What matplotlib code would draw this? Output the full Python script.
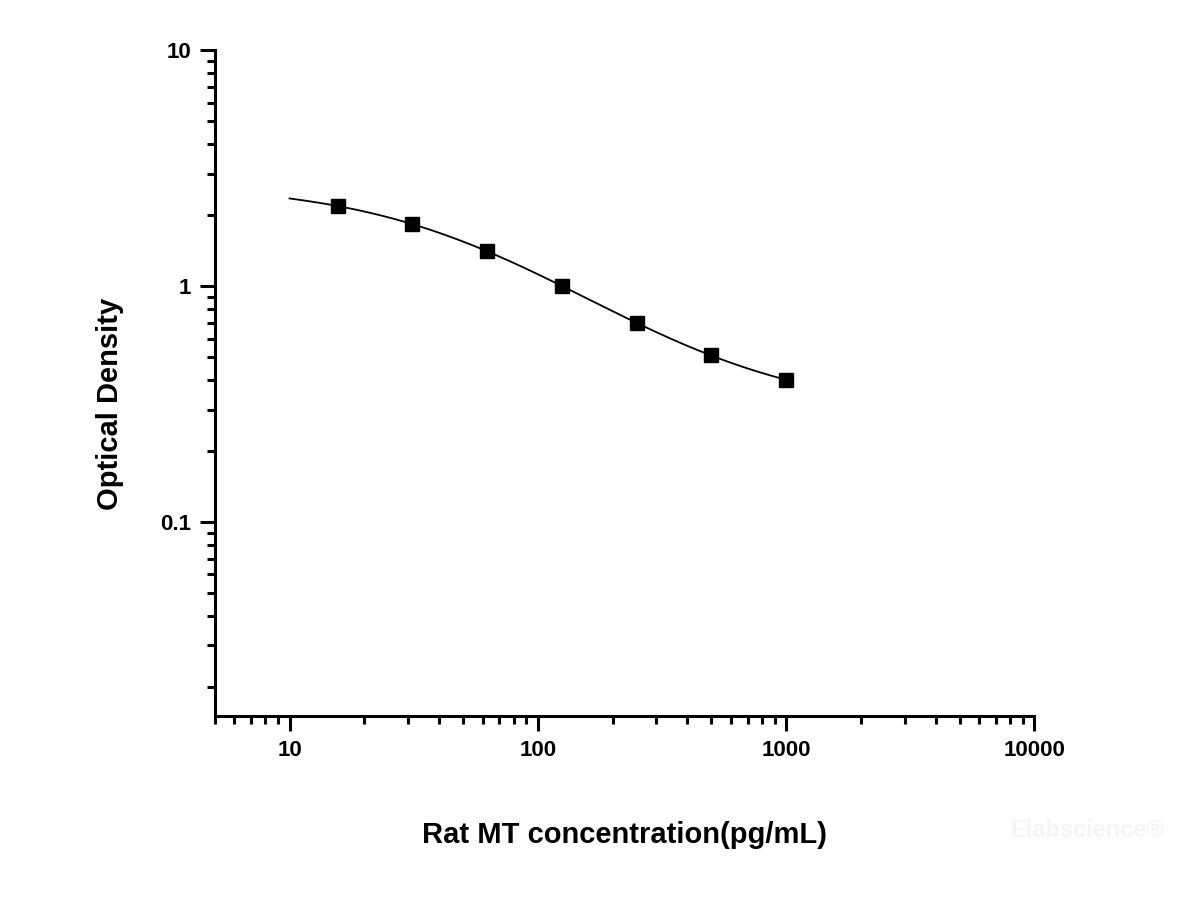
import numpy as np
import matplotlib
matplotlib.use("Agg")
import matplotlib.pyplot as plt
from matplotlib.ticker import LogLocator, FixedFormatter, FixedLocator

plt.rcParams['font.family'] = ['Liberation Sans', 'DejaVu Sans']
plt.rcParams['font.weight'] = 'bold'

# standard curve points
conc = [15.63, 31.25, 62.5, 125, 250, 500, 1000]
od = [2.19, 1.83, 1.41, 1.00, 0.70, 0.51, 0.40]

x_label = "Rat MT concentration(pg/mL)"
y_label = "Optical Density"
x_ticks = [10, 100, 1000, 10000]
y_ticks = [0.1, 1, 10]


def four_pl(x, a, d, c, b):
    return d + (a - d) / (1 + (x / c) ** b)


# 4-parameter logistic fit: grid over c, b; a and d by linear least squares
xs = np.array(conc)
ys = np.array(od)
best = None
for c in np.logspace(1, 3.5, 300):
    for b in np.linspace(0.4, 2.5, 200):
        g = 1 / (1 + (xs / c) ** b)
        M = np.column_stack([g, 1 - g])
        coef, *_ = np.linalg.lstsq(M, ys, rcond=None)
        err = np.sum((M @ coef - ys) ** 2)
        if best is None or err < best[0]:
            best = (err, coef[0], coef[1], c, b)
_, A, D, C, B = best

xfit = np.logspace(1, 3, 200)
yfit = four_pl(xfit, A, D, C, B)

fig = plt.figure(figsize=(12, 9), dpi=100)
ax = fig.add_axes([0.179, 0.204, 0.683, 0.740])

ax.plot(xfit, yfit, color='black', lw=1.3)
ax.plot(conc, od, 's', color='black', ms=10)

ax.set_xscale('log')
ax.set_yscale('log')
ax.set_xlim(5, 10000)
ax.set_ylim(0.015, 10)

ax.spines['top'].set_visible(False)
ax.spines['right'].set_visible(False)
for s in ('left', 'bottom'):
    ax.spines[s].set_linewidth(2.2)

ax.xaxis.set_major_locator(FixedLocator(x_ticks))
ax.xaxis.set_major_formatter(FixedFormatter([str(t) for t in x_ticks]))
ax.yaxis.set_major_locator(FixedLocator(y_ticks))
ax.yaxis.set_major_formatter(FixedFormatter(['0.1', '1', '10']))
ax.xaxis.set_minor_locator(LogLocator(base=10, subs=np.arange(2, 10)))
ax.yaxis.set_minor_locator(LogLocator(base=10, subs=np.arange(2, 10)))
ax.xaxis.set_minor_formatter(plt.NullFormatter())
ax.yaxis.set_minor_formatter(plt.NullFormatter())

ax.tick_params(which='major', direction='out', length=11, width=2.2,
               labelsize=16, pad=6)
ax.tick_params(which='minor', direction='out', length=6, width=2.2)
for lbl in ax.get_xticklabels() + ax.get_yticklabels():
    lbl.set_fontweight('bold')

fig.text(0.52, 0.072, x_label, ha='center', va='center',
         fontsize=21, fontweight='bold')
fig.text(0.092, 0.551, y_label, ha='center', va='center', rotation=90,
         fontsize=21, fontweight='bold')

fig.text(0.906, 0.077, "Elabscience\u00ae", ha='center', va='center',
         fontsize=17, fontweight='bold', color='#f5f5f5')

fig.savefig('out.png', dpi=100, facecolor='white')
